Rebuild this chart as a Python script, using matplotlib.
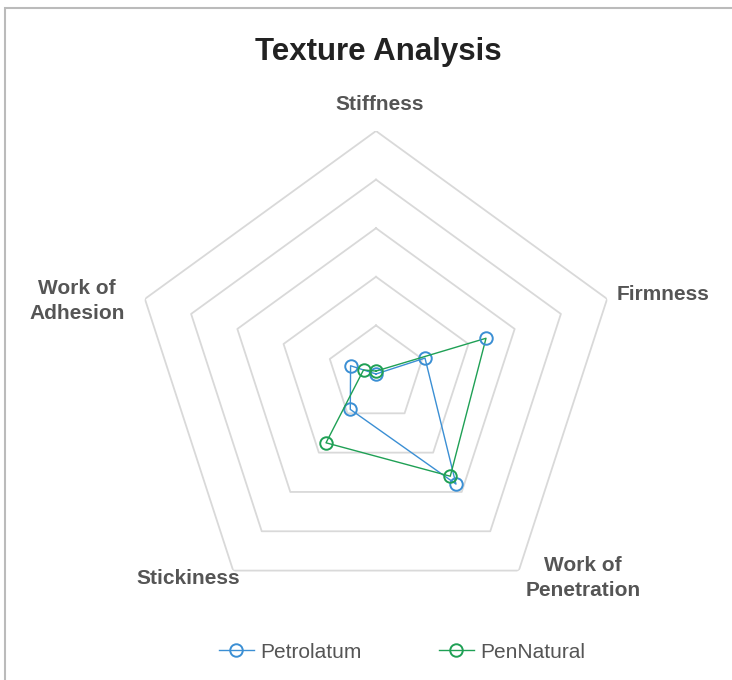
import numpy as np
import matplotlib
matplotlib.use("Agg")
import matplotlib.pyplot as plt
import matplotlib.patches as mpatches
from matplotlib.lines import Line2D

plt.rcParams['font.family'] = ['Liberation Sans', 'DejaVu Sans']

# Data
axes_labels = ["Stiffness", "Firmness", "Work of\nPenetration", "Stickiness", "Work of\nAdhesion"]
petrolatum = [0.0, 10.6, 28.0, 9.0, 5.5]
pennatural = [0.6, 23.8, 26.0, 17.5, 2.7]
ring_levels = [10, 20, 30, 40, 50]

BLUE = '#3b8fd4'
GREEN = '#1fa055'
GRID = '#d9d9d9'
LABEL = '#555555'

W, H = 732, 680
fig = plt.figure(figsize=(W / 100, H / 100), dpi=100)

# centre (376, 374) px, radius 243 px
cx, cy, R = 376, 374, 243
ax = fig.add_axes([(cx - R) / W, (H - cy - R) / H, 2 * R / W, 2 * R / H], projection='polar')
ax.set_theta_offset(np.pi / 2)
ax.set_theta_direction(-1)
ax.set_ylim(0, ring_levels[-1])
ax.grid(False)
ax.spines['polar'].set_visible(False)
ax.set_xticks([])
ax.set_yticks([])
ax.patch.set_alpha(0)

n = len(axes_labels)
theta = np.linspace(0, 2 * np.pi, n, endpoint=False)
theta_c = np.append(theta, theta[0])

# pentagon rings
for lvl in ring_levels:
    ax.plot(theta_c, [lvl] * (n + 1), color=GRID, lw=1.3, zorder=1)

# series
p = np.append(petrolatum, petrolatum[0])
g = np.append(pennatural, pennatural[0])
ax.plot(theta_c, p, color=BLUE, lw=1.0, zorder=3)
ax.plot(theta, petrolatum, 'o', ms=9, mfc='none', mec=BLUE, mew=1.4, zorder=4)
ax.plot(theta_c, g, color=GREEN, lw=1.0, zorder=5)
green_edges = [GREEN, BLUE, GREEN, GREEN, GREEN]
for t, v, ec in zip(theta, pennatural, green_edges):
    ax.plot([t], [v], 'o', ms=9, mfc='none', mec=ec, mew=1.4, zorder=6)

# axis labels (pixel positions)
label_pos = [(380, 105, 'center'), (617, 295, 'left'), (583, 578, 'center'),
             (188, 578, 'center'), (77, 301, 'center')]
for txt, (x, y, ha) in zip(axes_labels, label_pos):
    fig.text(x / W, 1 - y / H, txt, ha=ha, va='center', fontsize=15,
             fontweight='bold', color=LABEL, linespacing=1.42)

fig.text(378 / W, 1 - 52 / H, "Texture Analysis", ha='center', va='center',
         fontsize=22.5, fontweight='bold', color='#222222')

# legend
handles = [Line2D([0], [0], color=BLUE, lw=1.0, marker='o', ms=9, mfc='none', mew=1.4),
           Line2D([0], [0], color=GREEN, lw=1.0, marker='o', ms=9, mfc='none', mew=1.4)]
leg = fig.legend(handles, ["Petrolatum", "PenNatural"], loc='center',
                 bbox_to_anchor=(402 / W, 1 - 652 / H), ncol=2, frameon=False,
                 fontsize=15, handlelength=1.7, handletextpad=0.3, columnspacing=3.7)
for t in leg.get_texts():
    t.set_color(LABEL)

# outer border (left/top visible)
border = mpatches.Rectangle((5 / W, -0.1), 1.2, 1.1 - 8 / H, transform=fig.transFigure,
                            fill=False, edgecolor='#bbbbbb', lw=1.5)
fig.patches.append(border)

fig.savefig("out.png", dpi=100, facecolor='white')
plt.close(fig)
